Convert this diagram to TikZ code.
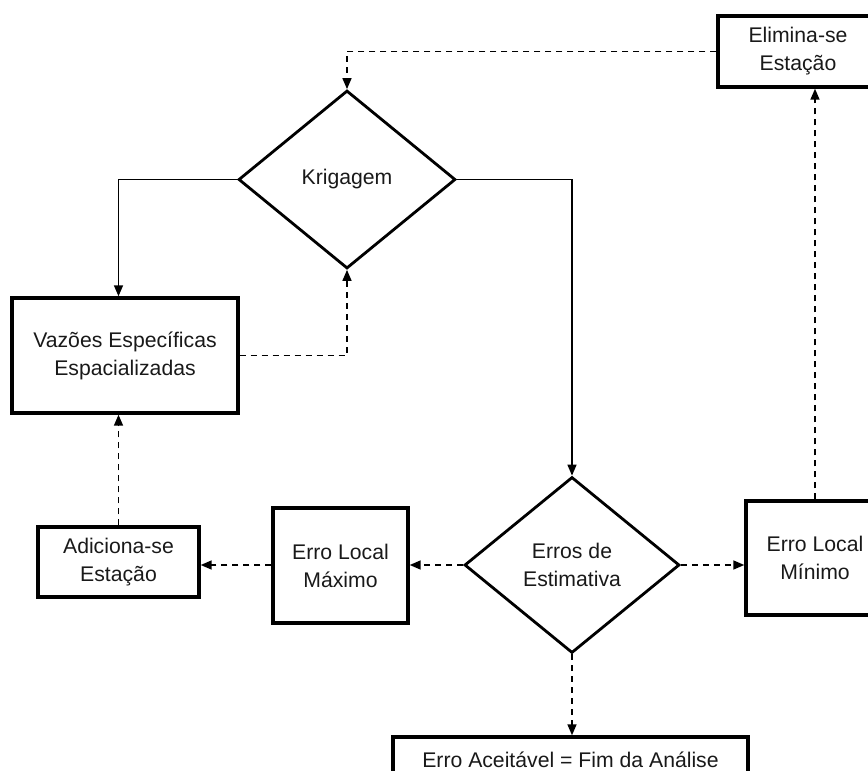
\documentclass[tikz,border=0pt]{standalone}
\usepackage{fontspec}
\setmainfont{Liberation Sans}
\usetikzlibrary{shapes.geometric,arrows.meta}
\begin{document}
\begin{tikzpicture}[x=1pt,y=-1pt,
  txt/.style={font=\fontsize{21.2}{28}\selectfont,text=black!90},
  box/.style={txt,draw,line width=3.4pt,inner sep=0pt,align=center},
  dia/.style={txt,draw,diamond,line width=2.8pt,inner sep=0pt,align=center},
  sol/.style={line width=1.6pt,-{Triangle[length=11pt,width=9pt]}},
  dsh/.style={sol,dash pattern=on 6pt off 5pt}]
\useasboundingbox (0,0) rectangle (868,771);
\clip (0,0) rectangle (868,771);
% nodes
\node[box,minimum width=160pt,minimum height=71pt] (elim) at (798,51.5) {Elimina-se\\Estação};
\node[dia,minimum width=217pt,minimum height=178pt] (krig) at (347,179.5) {Krigagem};
\node[box,minimum width=226pt,minimum height=115pt] (vaz) at (125,355.5) {Vazões Específicas\\Espacializadas};
\node[dia,minimum width=215pt,minimum height=176pt] (err) at (572,565) {Erros de\\Estimativa};
\node[box,minimum width=138pt,minimum height=114pt] (min) at (815,558) {Erro Local\\Mínimo};
\node[box,minimum width=135pt,minimum height=115pt] (max) at (340.5,565.5) {Erro Local\\Máximo};
\node[box,minimum width=161pt,minimum height=70pt] (adic) at (118.5,562) {Adiciona-se\\Estação};
\node[box,minimum width=355pt,minimum height=46pt] (acc) at (570.5,760) {Erro Aceitável = Fim da Análise};
% connectors
\draw[dsh] (elim.west) -| (krig.north);
\draw[sol] (krig.west) -| (adic.north |- vaz.north);
\draw[dsh] (vaz.east) -| (krig.south);
\draw[sol] (krig.east) -| (err.north);
\draw[dsh] (err.east) -- (err.east -| min.west);
\draw[dsh] (min.north) -- (min.north |- elim.south);
\draw[dsh] (err.west) -- (err.west -| max.east);
\draw[dsh] (err.west -| max.west) -- (err.west -| adic.east);
\draw[dsh] (adic.north) -- (adic.north |- vaz.south);
\draw[dsh] (err.south) -- (err.south |- acc.north);
\end{tikzpicture}
\end{document}
